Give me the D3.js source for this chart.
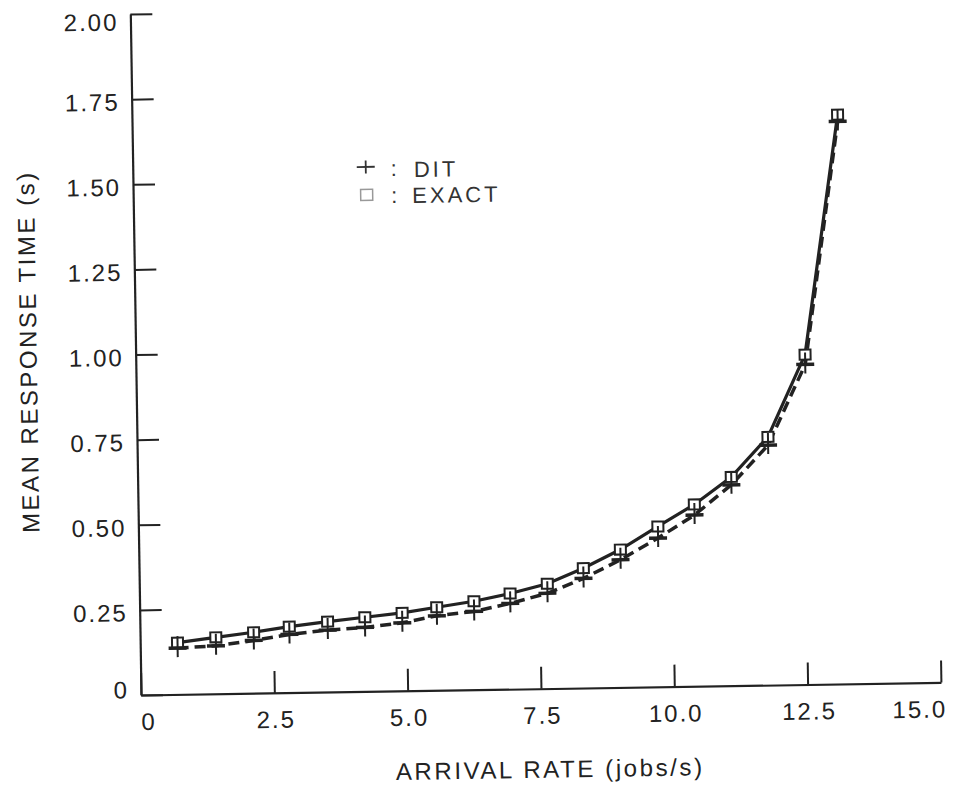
<!DOCTYPE html>
<html>
<head>
<meta charset="utf-8">
<script src="https://cdn.jsdelivr.net/npm/d3@7"></script>
<style>
  body { margin: 0; background: #fff; }
  svg { display: block; font-family: "Liberation Sans", Arial, Helvetica, sans-serif; }
</style>
</head>
<body>
<div id="chart"></div>
<script>
// values
var arrivalRate = [0.70, 1.42, 2.13, 2.80, 3.52, 4.22, 4.92, 5.57, 6.27, 6.95,
                   7.65, 8.33, 9.03, 9.74, 10.43, 11.13, 11.83, 12.55, 13.23];
var exactTime = [0.152, 0.166, 0.179, 0.194, 0.207, 0.218, 0.229, 0.244, 0.260, 0.281,
                 0.308, 0.352, 0.405, 0.471, 0.534, 0.613, 0.729, 0.969, 1.672];
var ditTime = [0.136, 0.141, 0.155, 0.171, 0.182, 0.188, 0.200, 0.219, 0.230, 0.252,
               0.280, 0.322, 0.375, 0.437, 0.503, 0.590, 0.705, 0.940, 1.652];

var xTicks = [0, 2.5, 5, 7.5, 10, 12.5, 15];
var xTickLabels = ["0", "2.5", "5.0", "7.5", "10.0", "12.5", "15.0"];
var yTicks = [0, 0.25, 0.5, 0.75, 1, 1.25, 1.5, 1.75, 2];
var yTickLabels = ["0", "0.25", "0.50", "0.75", "1.00", "1.25", "1.50", "1.75", "2.00"];

var W = 953, H = 788;
var iw = 800, ih = 681;
var ink = "#222";

var svg = d3.select("#chart").append("svg")
  .attr("width", W).attr("height", H);

// the scan is slightly tilted, so the whole plot frame is turned a little
var g = svg.append("g")
  .attr("transform", "translate(141,695) rotate(-0.9) translate(0," + (-ih) + ")");

var x = d3.scaleLinear().domain([0, 15]).range([0, iw]);
var y = d3.scaleLinear().domain([0, 2]).range([ih, 0]);

/* ---- axes ---- */
var yAxis = d3.axisLeft(y)
  .tickValues(yTicks)
  .tickFormat(function (d, i) { return yTickLabels[i]; })
  .tickSizeInner(-22).tickSizeOuter(0).tickPadding(12);

var gy = g.append("g").call(yAxis).attr("font-family", null);
gy.select(".domain").attr("stroke", ink).attr("stroke-width", 2.2);
gy.selectAll(".tick line").attr("stroke", ink).attr("stroke-width", 2);
gy.selectAll(".tick text")
  .attr("fill", ink).attr("font-size", 24).attr("letter-spacing", 2)
  .attr("y", function (d) { return d === 2 ? 8 : (d === 0 ? -5 : 3); });

var xAxis = d3.axisBottom(x)
  .tickValues(xTicks)
  .tickFormat(function (d, i) { return xTickLabels[i]; })
  .tickSizeInner(-22).tickSizeOuter(0).tickPadding(18);

var gx = g.append("g").attr("transform", "translate(0," + ih + ")")
  .call(xAxis).attr("font-family", null);
gx.select(".domain").attr("stroke", ink).attr("stroke-width", 2.2);
gx.selectAll(".tick line").attr("stroke", ink).attr("stroke-width", 2);
gx.selectAll(".tick text")
  .attr("fill", ink).attr("font-size", 24).attr("letter-spacing", 2)
  .attr("x", function (d) { return d === 0 ? 7 : (d === 15 ? -22 : 1); });

/* ---- axis titles ---- */
g.append("text")
  .attr("transform", "translate(-99,336) rotate(-90)")
  .attr("text-anchor", "middle")
  .attr("fill", ink).attr("font-size", 24).attr("letter-spacing", 2.5)
  .text("MEAN RESPONSE TIME (s)");

g.append("text")
  .attr("x", 408).attr("y", ih + 89)
  .attr("text-anchor", "middle")
  .attr("fill", ink).attr("font-size", 24).attr("letter-spacing", 2.6)
  .text("ARRIVAL RATE (jobs/s)");

/* ---- lines ---- */
var pts = arrivalRate.map(function (r, i) {
  return { r: r, exact: exactTime[i], dit: ditTime[i] };
});

var lineDit = d3.line()
  .x(function (d) { return x(d.r); })
  .y(function (d) { return y(d.dit); });
var lineExact = d3.line()
  .x(function (d) { return x(d.r); })
  .y(function (d) { return y(d.exact); });

g.append("path").datum(pts)
  .attr("d", lineDit)
  .attr("fill", "none").attr("stroke", ink)
  .attr("stroke-width", 3.5).attr("stroke-dasharray", "11,6");

g.append("path").datum(pts)
  .attr("d", lineExact)
  .attr("fill", "none").attr("stroke", ink)
  .attr("stroke-width", 3.2);

/* ---- markers ---- */
g.selectAll("rect.exact").data(pts).enter().append("rect")
  .attr("class", "exact")
  .attr("x", function (d) { return x(d.r) - 5.5; })
  .attr("y", function (d) { return y(d.exact) - 5; })
  .attr("width", 11).attr("height", 10)
  .attr("fill", "#fff").attr("stroke", ink).attr("stroke-width", 2);

var plus = g.selectAll("g.dit").data(pts).enter().append("g")
  .attr("class", "dit")
  .attr("transform", function (d) {
    return "translate(" + x(d.r) + "," + y(d.dit) + ")";
  });
plus.append("line")
  .attr("x1", 0).attr("y1", -12).attr("x2", 0).attr("y2", 9)
  .attr("stroke", ink).attr("stroke-width", 2);
plus.append("line")
  .attr("x1", -9).attr("y1", 0).attr("x2", 9).attr("y2", 0)
  .attr("stroke", ink).attr("stroke-width", 3.5);

/* ---- legend ---- */
var lg = g.append("g");
lg.append("line")
  .attr("x1", 224).attr("y1", 156.5).attr("x2", 242).attr("y2", 156.5)
  .attr("stroke", "#333").attr("stroke-width", 1.8);
lg.append("line")
  .attr("x1", 233).attr("y1", 150).attr("x2", 233).attr("y2", 163)
  .attr("stroke", "#333").attr("stroke-width", 1.8);
lg.append("rect")
  .attr("x", 227.5).attr("y", 179).attr("width", 12).attr("height", 11)
  .attr("fill", "#fff").attr("stroke", "#999").attr("stroke-width", 1.5);

lg.selectAll("text.colon").data([166, 193]).enter().append("text")
  .attr("class", "colon")
  .attr("x", 261).attr("y", function (d) { return d; })
  .attr("text-anchor", "middle")
  .attr("fill", "#333").attr("font-size", 22)
  .text(":");

lg.append("text")
  .attr("x", 281).attr("y", 167.3)
  .attr("fill", "#333").attr("font-size", 22).attr("letter-spacing", 3)
  .text("DIT");
lg.append("text")
  .attr("x", 279).attr("y", 193.3)
  .attr("fill", "#333").attr("font-size", 22).attr("letter-spacing", 3)
  .text("EXACT");
</script>
</body>
</html>
